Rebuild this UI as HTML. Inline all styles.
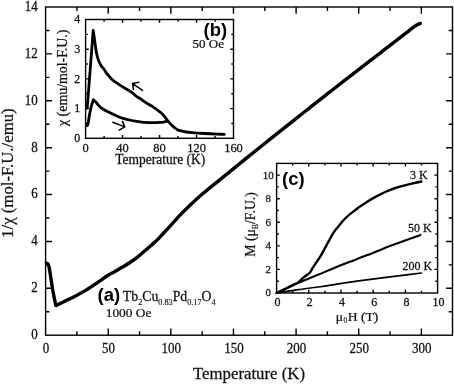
<!DOCTYPE html>
<html><head><meta charset="utf-8"><style>
html,body{margin:0;padding:0;background:#fff;}
svg{display:block;will-change:transform;filter:blur(0.3px);}
text{font-family:"Liberation Serif",serif;fill:#111;stroke:#111;stroke-width:0.25px;}
.m{font-size:13px;}
.mt{font-size:16.8px;}
.yt{font-size:16.8px;}
.b{font-size:12px;}
.b13{font-size:13px;}
.b11{font-size:11px;}
.b125{font-size:12.5px;}
.bt{font-size:13.5px;}
.byt{font-size:13.9px;}
.ct{font-size:13.6px;}
.cyt{font-size:13.8px;}
.cs{font-size:7.5px;stroke-width:0.15px;}
.fo{font-size:13.8px;}
.fo2{font-size:13.4px;}
.sb{font-size:8.2px;stroke-width:0.15px;}
.pl{font-family:"Liberation Sans",sans-serif;font-weight:bold;font-size:18.5px;fill:#000;stroke:none;}
</style></head><body>
<svg width="454" height="384" viewBox="0 0 454 384">
<rect width="454" height="384" fill="#fff"/>
<rect x="45.6" y="7.0" width="406.9" height="328.2" stroke="#000" stroke-width="1.4" fill="none"/>
<path d="M76.91 335.2v-4M76.91 7v4M108.22 335.2v-6.8M108.22 7v6.8M139.54 335.2v-4M139.54 7v4M170.85 335.2v-6.8M170.85 7v6.8M202.16 335.2v-4M202.16 7v4M233.47 335.2v-6.8M233.47 7v6.8M264.79 335.2v-4M264.79 7v4M296.1 335.2v-6.8M296.1 7v6.8M327.41 335.2v-4M327.41 7v4M358.73 335.2v-6.8M358.73 7v6.8M390.04 335.2v-4M390.04 7v4M421.35 335.2v-6.8M421.35 7v6.8M45.6 311.76h3.8M452.5 311.76h-3.8M45.6 288.32h6.4M452.5 288.32h-6.4M45.6 264.88h3.8M452.5 264.88h-3.8M45.6 241.44h6.4M452.5 241.44h-6.4M45.6 218h3.8M452.5 218h-3.8M45.6 194.56h6.4M452.5 194.56h-6.4M45.6 171.12h3.8M452.5 171.12h-3.8M45.6 147.68h6.4M452.5 147.68h-6.4M45.6 124.24h3.8M452.5 124.24h-3.8M45.6 100.8h6.4M452.5 100.8h-6.4M45.6 77.36h3.8M452.5 77.36h-3.8M45.6 53.92h6.4M452.5 53.92h-6.4M45.6 30.48h3.8M452.5 30.48h-3.8" stroke="#000" stroke-width="1.4" fill="none"/>
<text transform="translate(37.8 339.1) scale(1 1.1)" text-anchor="end" class="m">0</text>
<text transform="translate(37.8 292.22) scale(1 1.1)" text-anchor="end" class="m">2</text>
<text transform="translate(37.8 245.34) scale(1 1.1)" text-anchor="end" class="m">4</text>
<text transform="translate(37.8 198.46) scale(1 1.1)" text-anchor="end" class="m">6</text>
<text transform="translate(37.8 151.58) scale(1 1.1)" text-anchor="end" class="m">8</text>
<text transform="translate(37.8 104.7) scale(1 1.1)" text-anchor="end" class="m">10</text>
<text transform="translate(37.8 57.82) scale(1 1.1)" text-anchor="end" class="m">12</text>
<text transform="translate(37.8 10.94) scale(1 1.1)" text-anchor="end" class="m">14</text>
<text transform="translate(46 352.8) scale(1 1.1)" text-anchor="middle" class="m">0</text>
<text transform="translate(108.62 352.8) scale(1 1.1)" text-anchor="middle" class="m">50</text>
<text transform="translate(171.25 352.8) scale(1 1.1)" text-anchor="middle" class="m">100</text>
<text transform="translate(233.88 352.8) scale(1 1.1)" text-anchor="middle" class="m">150</text>
<text transform="translate(296.5 352.8) scale(1 1.1)" text-anchor="middle" class="m">200</text>
<text transform="translate(359.12 352.8) scale(1 1.1)" text-anchor="middle" class="m">250</text>
<text transform="translate(421.75 352.8) scale(1 1.1)" text-anchor="middle" class="m">300</text>
<text transform="translate(249 378.8) scale(1 1.03)" text-anchor="middle" class="mt">Temperature (K)</text>
<text transform="translate(13.1 173.1) rotate(-90) scale(1 1.0)" text-anchor="middle" class="yt">1/&#967; (mol-F.U./emu)</text>
<path d="M46.5 263.2C47.1 263.6 47.76 263.15 48.3 264.4C48.84 265.65 49.3 268.27 49.75 270.7C50.2 273.13 50.61 276.45 51 279C51.39 281.55 51.81 284.12 52.1 286C52.39 287.88 52.37 288.18 52.75 290.3C53.13 292.42 53.88 296.15 54.4 298.7C54.92 301.25 55.4 303.3 55.9 305.6C57.6 304.77 59.1 304.02 61 303.1C62.9 302.18 64.72 301.38 67.3 300.1C69.88 298.82 73.45 297.02 76.5 295.4C79.55 293.78 82.93 291.98 85.6 290.4C88.27 288.82 90.1 287.5 92.5 285.9C94.9 284.3 97.53 282.5 100 280.8C102.47 279.1 104.87 277.22 107.3 275.7C109.73 274.18 112.17 273.08 114.6 271.7C117.03 270.32 119.47 268.85 121.9 267.4C124.33 265.95 126.77 264.58 129.2 263C131.63 261.42 134.03 259.82 136.5 257.9C138.97 255.98 141.53 253.62 144 251.5C146.47 249.38 148.87 247.35 151.3 245.2C153.73 243.05 156.17 241.03 158.6 238.6C161.03 236.17 163.47 233.27 165.9 230.6C168.33 227.93 170.77 225.27 173.2 222.6C175.63 219.93 178.03 217.17 180.5 214.6C182.97 212.03 184.75 210.3 188 207.2C191.25 204.1 196 199.49 200 195.98C204 192.47 208 189.43 212 186.16C216 182.89 220 179.62 224 176.37C228 173.12 232 169.87 236 166.63C240 163.39 244 160.16 248 156.93C252 153.71 256 150.49 260 147.28C264 144.07 268 140.87 272 137.67C276 134.47 280 131.28 284 128.1C288 124.92 292 121.74 296 118.57C300 115.4 304 112.25 308 109.09C312 105.94 316 102.78 320 99.64C324 96.5 328 93.38 332 90.25C336 87.12 340 84 344 80.89C348 77.78 352 74.68 356 71.58C360 68.48 364 65.39 368 62.31C372 59.23 376 56.15 380 53.08C384 50.01 387.97 47.01 392 43.9C396.03 40.79 401.48 36.5 404.2 34.4C406.92 32.3 406.92 32.38 408.3 31.3C409.68 30.22 411.1 28.95 412.5 27.9C413.9 26.85 415.38 25.75 416.7 25C418.02 24.25 419.17 23.93 420.4 23.4" fill="none" stroke="#000" stroke-width="3.4" stroke-linejoin="round" stroke-linecap="round"/>
<text x="97.5" y="301.1" class="pl">(a)</text>
<text transform="translate(122.8 300.8) scale(1 1.03)" class="fo">Tb<tspan class="sb" dy="4.4">2</tspan><tspan dy="-4.4">Cu</tspan><tspan class="sb" dy="4.4">0.83</tspan><tspan dy="-4.4">Pd</tspan><tspan class="sb" dy="4.4">0.17</tspan><tspan dy="-4.4">O</tspan><tspan class="sb" dy="4.4">4</tspan></text>
<text transform="translate(105.7 317.2) scale(1 0.98)" class="fo2">1000 Oe</text>
<rect x="85.6" y="19.5" width="147.9" height="118.8" fill="#fff" stroke="#000" stroke-width="1.4" fill="none"/>
<path d="M104.09 138.3v-2.2M104.09 19.5v2.2M122.57 138.3v-3.2M122.57 19.5v3.2M141.06 138.3v-2.2M141.06 19.5v2.2M159.55 138.3v-3.2M159.55 19.5v3.2M178.04 138.3v-2.2M178.04 19.5v2.2M196.52 138.3v-3.2M196.52 19.5v3.2M215.01 138.3v-2.2M215.01 19.5v2.2M85.6 123.45h2.2M233.5 123.45h-2.2M85.6 108.6h3.2M233.5 108.6h-3.2M85.6 93.75h2.2M233.5 93.75h-2.2M85.6 78.9h3.2M233.5 78.9h-3.2M85.6 64.05h2.2M233.5 64.05h-2.2M85.6 49.2h3.2M233.5 49.2h-3.2M85.6 34.35h2.2M233.5 34.35h-2.2" stroke="#000" stroke-width="1.4" fill="none"/>
<text transform="translate(80.3 142) scale(1 1.03)" text-anchor="end" class="b">0</text>
<text transform="translate(80.3 112.3) scale(1 1.03)" text-anchor="end" class="b">1</text>
<text transform="translate(80.3 82.6) scale(1 1.03)" text-anchor="end" class="b">2</text>
<text transform="translate(80.3 52.9) scale(1 1.03)" text-anchor="end" class="b">3</text>
<text transform="translate(80.3 23.2) scale(1 1.03)" text-anchor="end" class="b">4</text>
<text transform="translate(85.6 151.9) scale(1 1.05)" text-anchor="middle" class="b125">0</text>
<text transform="translate(122.57 151.9) scale(1 1.05)" text-anchor="middle" class="b125">40</text>
<text transform="translate(159.55 151.9) scale(1 1.05)" text-anchor="middle" class="b125">80</text>
<text transform="translate(196.52 151.9) scale(1 1.05)" text-anchor="middle" class="b125">120</text>
<text transform="translate(233.5 151.9) scale(1 1.05)" text-anchor="middle" class="b125">160</text>
<text transform="translate(160.2 164.4) scale(1 1.03)" text-anchor="middle" class="bt">Temperature (K)</text>
<text transform="translate(67 77.8) rotate(-90) scale(1 1.0)" text-anchor="middle" class="byt">&#967; (emu/mol-F.U.)</text>
<text x="203.5" y="36" class="pl">(b)</text>
<text transform="translate(192.6 48.4) scale(1 0.95)" class="b13">50 Oe</text>
<path d="M87.2 108.2C89.2 82.27 91.2 56.33 93.2 30.4C93.8 34.52 94.48 39.13 95 42.75C95.52 46.37 95.77 49.29 96.3 52.1C96.83 54.91 97.42 57.37 98.2 59.6C98.98 61.83 100.03 63.88 101 65.5C101.97 67.12 103.08 68.03 104 69.3C104.92 70.57 105.67 71.98 106.5 73.1C107.33 74.22 108.03 74.89 109 76C109.97 77.11 111.05 78.63 112.3 79.75C113.55 80.87 115.1 81.73 116.5 82.7C117.9 83.67 119.32 84.7 120.7 85.6C122.08 86.5 123.42 87.27 124.8 88.1C126.18 88.93 127.6 89.7 129 90.6C130.4 91.5 132.03 92.6 133.2 93.5C134.37 94.4 134.83 95.13 136 96C137.17 96.87 138.82 97.77 140.2 98.7C141.58 99.63 142.92 100.67 144.3 101.6C145.68 102.53 147.1 103.47 148.5 104.3C149.9 105.13 151.32 105.73 152.7 106.6C154.08 107.47 155.42 108.47 156.8 109.5C158.18 110.53 159.75 111.68 161 112.8C162.25 113.92 163.22 114.92 164.3 116.2C165.38 117.48 166.55 119.3 167.5 120.5C168.45 121.7 169.17 122.5 170 123.4C170.83 124.3 171.67 125.13 172.5 125.9C173.33 126.67 174.17 127.37 175 128C175.83 128.63 176.67 129.25 177.5 129.7C178.33 130.15 178.75 130.36 180 130.7C181.25 131.04 183 131.43 185 131.75C187 132.07 188.72 132.31 192 132.6C195.28 132.89 200.53 133.25 204.7 133.5C208.87 133.75 213.72 133.97 217 134.1C220.28 134.23 221.93 134.23 224.4 134.3" fill="none" stroke="#000" stroke-width="2.8" stroke-linejoin="round" stroke-linecap="round"/>
<path d="M86.8 125.5C87.17 125.17 87.42 126.47 87.9 124.5C88.38 122.53 89.08 116.93 89.7 113.7C90.32 110.47 90.98 107.42 91.6 105.1C92.22 102.78 92.8 101.57 93.4 99.8C94.23 100.53 95.08 101.12 95.9 102C96.72 102.88 97.48 104.17 98.3 105.1C99.12 106.03 99.77 106.78 100.8 107.6C101.83 108.42 102.85 109.08 104.5 110C106.15 110.92 108.65 112.1 110.7 113.1C112.75 114.1 114.75 115.12 116.8 116C118.85 116.88 120.93 117.75 123 118.4C125.07 119.05 127.15 119.43 129.2 119.9C131.25 120.37 133.17 120.82 135.3 121.2C137.43 121.58 140.22 121.98 142 122.2C143.78 122.42 144.22 122.42 146 122.5C147.78 122.58 150.7 122.7 152.7 122.7C154.7 122.7 156.37 122.57 158 122.5C159.63 122.43 161.33 122.42 162.5 122.3C163.67 122.17 164.17 121.97 165 121.75C165.83 121.53 166.67 121.25 167.5 121" fill="none" stroke="#000" stroke-width="2.8" stroke-linejoin="round" stroke-linecap="round"/>
<path d="M142.6 90.4L132.6 83.6L138.8 82.2M132.6 83.6L133.4 89.6" fill="none" stroke="#000" stroke-width="1.5" stroke-linecap="round" stroke-linejoin="round"/>
<path d="M112.8 122.3L124.7 126.9L122.4 121.4M124.7 126.9L119.2 130.2" fill="none" stroke="#000" stroke-width="1.5" stroke-linecap="round" stroke-linejoin="round"/>
<rect x="276.6" y="163.4" width="161" height="129.6" fill="#fff" stroke="#000" stroke-width="1.4" fill="none"/>
<path d="M292.7 293v-2.2M292.7 163.4v2.2M308.8 293v-3.2M308.8 163.4v3.2M324.9 293v-2.2M324.9 163.4v2.2M341 293v-3.2M341 163.4v3.2M357.1 293v-2.2M357.1 163.4v2.2M373.2 293v-3.2M373.2 163.4v3.2M389.3 293v-2.2M389.3 163.4v2.2M405.4 293v-3.2M405.4 163.4v3.2M421.5 293v-2.2M421.5 163.4v2.2M276.6 281.21h2.2M437.6 281.21h-2.2M276.6 269.42h3.2M437.6 269.42h-3.2M276.6 257.63h2.2M437.6 257.63h-2.2M276.6 245.84h3.2M437.6 245.84h-3.2M276.6 234.05h2.2M437.6 234.05h-2.2M276.6 222.26h3.2M437.6 222.26h-3.2M276.6 210.47h2.2M437.6 210.47h-2.2M276.6 198.68h3.2M437.6 198.68h-3.2M276.6 186.89h2.2M437.6 186.89h-2.2M276.6 175.1h3.2M437.6 175.1h-3.2" stroke="#000" stroke-width="1.4" fill="none"/>
<text transform="translate(268.2 296.4) scale(1 1.03)" text-anchor="middle" class="b11">0</text>
<text transform="translate(268.2 272.82) scale(1 1.03)" text-anchor="middle" class="b11">2</text>
<text transform="translate(268.2 249.24) scale(1 1.03)" text-anchor="middle" class="b11">4</text>
<text transform="translate(268.2 225.66) scale(1 1.03)" text-anchor="middle" class="b11">6</text>
<text transform="translate(268.2 202.08) scale(1 1.03)" text-anchor="middle" class="b11">8</text>
<text transform="translate(268.2 178.5) scale(1 1.03)" text-anchor="middle" class="b11">10</text>
<text transform="translate(277.6 306.2) scale(1 1.03)" text-anchor="middle" class="b">0</text>
<text transform="translate(309.8 306.2) scale(1 1.03)" text-anchor="middle" class="b">2</text>
<text transform="translate(342 306.2) scale(1 1.03)" text-anchor="middle" class="b">4</text>
<text transform="translate(374.2 306.2) scale(1 1.03)" text-anchor="middle" class="b">6</text>
<text transform="translate(406.4 306.2) scale(1 1.03)" text-anchor="middle" class="b">8</text>
<text transform="translate(438.6 306.2) scale(1 1.03)" text-anchor="middle" class="b">10</text>
<text transform="translate(335.8 320.7) scale(1 0.97)" class="ct">&#956;<tspan class="cs" dy="2.6" dx="0.4">0</tspan><tspan dy="-2.6" dx="0.5">H (T)</tspan></text>
<text transform="translate(255.2 224.4) rotate(-90) scale(1 1.0)" text-anchor="middle" class="cyt">M (&#956;<tspan class="cs" dy="2.6">B</tspan><tspan dy="-2.6">/F.U.)</tspan></text>
<text x="282" y="185" class="pl">(c)</text>
<text transform="translate(409.9 179.1) scale(1 1.03)" class="b">3 K</text>
<text transform="translate(408 231.8) scale(1 1.03)" class="b">50 K</text>
<text transform="translate(402.5 269.6) scale(1 1.03)" class="b">200 K</text>
<path d="M276.6 293C279.73 291.5 283.77 289.6 286 288.5C288.23 287.4 288.73 287.05 290 286.4C291.27 285.75 292.38 285.15 293.6 284.6C294.82 284.05 296.08 283.88 297.3 283.1C298.52 282.32 299.68 280.98 300.9 279.9C302.12 278.82 303.38 277.58 304.6 276.6C305.82 275.62 307.3 274.7 308.2 274C309.1 273.3 309.38 273.18 310 272.4C310.62 271.62 311.22 270.43 311.9 269.3C312.58 268.17 313.37 266.73 314.1 265.6C314.83 264.47 315.2 264.13 316.3 262.5C317.4 260.87 319.53 257.7 320.7 255.8C321.87 253.9 322.43 252.67 323.3 251.1C324.17 249.53 325.12 247.83 325.9 246.4C326.68 244.97 327.13 244.1 328 242.5C328.87 240.9 330.06 238.62 331.1 236.8C332.14 234.98 333.03 233.33 334.25 231.6C335.47 229.87 337.01 228.13 338.4 226.4C339.79 224.67 341.21 222.77 342.6 221.2C343.99 219.63 345.37 218.3 346.75 217C348.13 215.7 349.51 214.53 350.9 213.4C352.29 212.28 353.71 211.3 355.1 210.25C356.49 209.2 357.17 208.57 359.25 207.1C361.33 205.62 364.74 203.18 367.6 201.4C370.46 199.62 373.47 197.97 376.4 196.4C379.33 194.83 382.27 193.32 385.2 192C388.13 190.68 391.05 189.52 394 188.5C396.95 187.48 399.95 186.7 402.9 185.9C405.85 185.1 408.62 184.43 411.7 183.7C414.78 182.97 418.17 182.23 421.4 181.5" fill="none" stroke="#000" stroke-width="2.4" stroke-linejoin="round" stroke-linecap="round"/>
<path d="M276.6 293C279.73 291.53 282.55 290.23 286 288.6C289.45 286.97 294.2 284.6 297.3 283.2C300.4 281.8 302.17 281.18 304.6 280.2C307.03 279.22 309.67 278.2 311.9 277.3C314.13 276.4 312.87 276.93 318 274.8C323.13 272.67 334.48 267.78 342.7 264.5C350.92 261.22 359.08 258.3 367.3 255.1C375.52 251.9 383.15 248.67 392 245.3C400.85 241.93 410.93 238.37 420.4 234.9" fill="none" stroke="#000" stroke-width="2.1" stroke-linejoin="round" stroke-linecap="round"/>
<path d="M276.6 293C283.73 291.9 290.77 290.74 298 289.7C305.23 288.66 313.98 287.6 320 286.75C326.02 285.9 329.4 285.33 334.1 284.6C338.8 283.88 343.5 283.1 348.2 282.4C352.9 281.7 356.33 281.2 362.3 280.4C368.27 279.6 374.15 278.83 384 277.6C393.85 276.37 408.93 274.53 421.4 273" fill="none" stroke="#000" stroke-width="1.7" stroke-linejoin="round" stroke-linecap="round"/>
</svg>
</body></html>
